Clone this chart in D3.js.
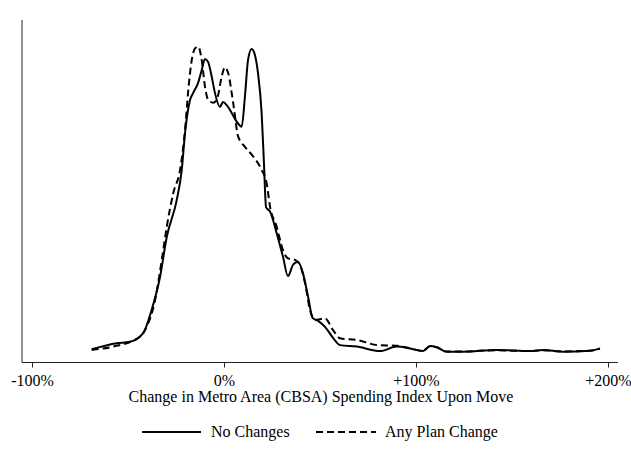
<!DOCTYPE html>
<html>
<head>
<meta charset="utf-8">
<script src="https://cdn.jsdelivr.net/npm/d3@7"></script>
<style>
  body { margin: 0; background: #fff; }
  text { font-family: "Liberation Serif", "DejaVu Serif", serif; fill: #000; }
</style>
</head>
<body>
<div id="chart"></div>
<script>
// change in spending index (%), density (relative)
var noChangeX = [-68.9, -55.9, -49.0, -42.0, -37.7, -33.3, -29.8, -24.6, -22.0, -20.3, -17.7, -16.1, -13.5, -11.6, -9.9, -8.3, -6.4, -4.7, -2.1, -0.5, 1.4, 4.0, 6.6, 9.2, 10.9, 12.5, 14.4, 16.1, 17.7, 19.6, 20.8, 21.9, 24.0, 27.4, 30.7, 33.3, 35.9, 38.5, 41.1, 43.8, 46.2, 49.0, 52.6, 56.8, 60.4, 69.1, 81.3, 89.9, 96.9, 103.6, 107.3, 110.8, 116.0, 124.5, 142.0, 159.4, 166.1, 176.6, 190.6, 195.8];
var noChangeY = [0.009, 0.029, 0.034, 0.064, 0.140, 0.251, 0.384, 0.507, 0.607, 0.730, 0.840, 0.863, 0.897, 0.940, 0.977, 0.967, 0.918, 0.863, 0.817, 0.833, 0.823, 0.797, 0.768, 0.751, 0.851, 0.973, 1.010, 0.990, 0.930, 0.797, 0.630, 0.483, 0.468, 0.397, 0.318, 0.253, 0.290, 0.301, 0.263, 0.184, 0.113, 0.104, 0.084, 0.047, 0.023, 0.018, 0.003, 0.018, 0.012, 0.003, 0.020, 0.016, 0.001, 0.001, 0.007, 0.003, 0.007, 0.001, 0.004, 0.012];

var planChangeX = [-68.9, -57.8, -43.8, -40.3, -35.9, -32.4, -29.8, -26.4, -22.9, -20.3, -18.6, -16.8, -15.1, -13.4, -11.6, -9.9, -8.2, -5.6, -3.5, -1.2, 0.5, 2.2, 4.8, 7.4, 10.9, 15.3, 19.6, 22.2, 24.0, 27.4, 30.7, 33.3, 37.0, 39.6, 42.2, 44.8, 47.4, 52.6, 56.8, 60.4, 69.1, 80.2, 89.9, 96.9, 103.6, 107.3, 110.8, 116.0, 124.5, 142.0, 159.4, 166.1, 176.6, 190.6, 195.8];
var planChangeY = [0.007, 0.018, 0.051, 0.084, 0.173, 0.307, 0.418, 0.530, 0.607, 0.740, 0.873, 0.973, 1.012, 1.018, 0.973, 0.884, 0.840, 0.831, 0.846, 0.918, 0.949, 0.929, 0.829, 0.718, 0.684, 0.651, 0.607, 0.563, 0.484, 0.418, 0.340, 0.312, 0.307, 0.290, 0.230, 0.140, 0.107, 0.112, 0.073, 0.046, 0.040, 0.023, 0.021, 0.012, 0.004, 0.019, 0.016, 0.002, 0.002, 0.006, 0.003, 0.006, 0.002, 0.004, 0.011];

var xTicks = [-100, 0, 100, 200];
var xTickLabels = ["-100%", "0%", "+100%", "+200%"];
var seriesNames = ["No Changes", "Any Plan Change"];

var W = 631, H = 463;
var svg = d3.select("#chart").append("svg")
    .attr("width", W)
    .attr("height", H);

var x = d3.scaleLinear().domain([-100, 200]).range([32, 608]);
var y = d3.scaleLinear().domain([-0.0333, 1.1067]).range([362, 20]);

// axes frame
svg.append("line")
    .attr("x1", 22).attr("x2", 22).attr("y1", 20).attr("y2", 362.5)
    .attr("stroke", "#222").attr("stroke-width", 1);

var xAxis = svg.append("g")
    .attr("transform", "translate(0,362.5)")
    .call(d3.axisBottom(x).tickValues(xTicks).tickSize(5).tickSizeOuter(0)
      .tickFormat(function(d, i) { return xTickLabels[i]; }));
xAxis.select(".domain").remove();
xAxis.selectAll(".tick line").attr("stroke", "#222");
xAxis.selectAll(".tick text")
    .attr("y", 12)
    .attr("font-family", "Liberation Serif")
    .attr("font-size", 16)
    .attr("fill", "#000");
xAxis.append("line")
    .attr("x1", 22).attr("x2", 618).attr("y1", 0).attr("y2", 0)
    .attr("stroke", "#222").attr("stroke-width", 1);

svg.append("text")
    .attr("x", 321)
    .attr("y", 402)
    .attr("text-anchor", "middle")
    .attr("font-size", 16)
    .text("Change in Metro Area (CBSA) Spending Index Upon Move");

var line = d3.line()
    .x(function(d) { return x(d[0]); })
    .y(function(d) { return y(d[1]); })
    .curve(d3.curveMonotoneX);

var noChange = d3.zip(noChangeX, noChangeY);
var planChange = d3.zip(planChangeX, planChangeY);

svg.append("path")
    .datum(planChange)
    .attr("fill", "none")
    .attr("stroke", "#000")
    .attr("stroke-width", 2)
    .attr("stroke-dasharray", "7,4")
    .attr("d", line);

svg.append("path")
    .datum(noChange)
    .attr("fill", "none")
    .attr("stroke", "#000")
    .attr("stroke-width", 2)
    .attr("d", line);

// legend
var legend = svg.append("g");
legend.append("line")
    .attr("x1", 142).attr("x2", 201).attr("y1", 432).attr("y2", 432)
    .attr("stroke", "#000").attr("stroke-width", 2);
legend.append("text")
    .attr("x", 211).attr("y", 437)
    .attr("font-size", 16)
    .text(seriesNames[0]);
legend.append("line")
    .attr("x1", 316).attr("x2", 376).attr("y1", 432).attr("y2", 432)
    .attr("stroke", "#000").attr("stroke-width", 2)
    .attr("stroke-dasharray", "7,4");
legend.append("text")
    .attr("x", 385).attr("y", 437)
    .attr("font-size", 16)
    .text(seriesNames[1]);
</script>
</body>
</html>
